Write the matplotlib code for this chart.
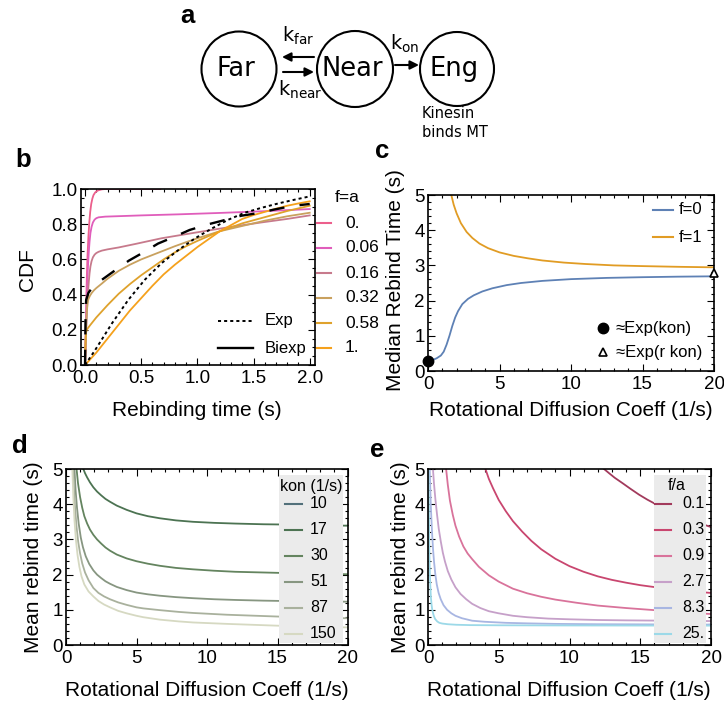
import matplotlib
matplotlib.use('Agg')
import matplotlib.pyplot as plt
from matplotlib.patches import Circle, Rectangle
from matplotlib.ticker import MultipleLocator, FormatStrFormatter

plt.rcParams['font.family'] = ['Liberation Sans', 'DejaVu Sans']
plt.rcParams['lines.scale_dashes'] = False

# ---------------- data: panel b (CDF of rebinding time) ----------------
b_f_labels = ['0.', '0.06', '0.16', '0.32', '0.58', '1.']
b_colors = ['#EC5F8C', '#E05DBB', '#C77A8C', '#C9A15E', '#DFA22C', '#F5A11C']
b_t = [
    [0, 0.004, 0.008, 0.012, 0.016, 0.022, 0.03, 0.038, 0.046, 0.055, 0.065, 0.075, 0.09, 0.105, 0.12, 0.15, 0.18, 0.67],
    [0, 0.005, 0.01, 0.015, 0.02, 0.026, 0.033, 0.04, 0.048, 0.058, 0.07, 0.085, 0.1, 0.12, 0.15, 0.18, 0.5, 0.83, 1.2, 1.6, 2.0],
    [0, 0.005, 0.01, 0.015, 0.02, 0.026, 0.033, 0.04, 0.048, 0.058, 0.07, 0.085, 0.1, 0.12, 0.15, 0.2, 0.3, 0.45, 0.68, 0.98, 1.27, 1.57, 1.8, 2.0],
    [0, 0.004, 0.008, 0.012, 0.016, 0.022, 0.03, 0.045, 0.06, 0.08, 0.1, 0.15, 0.2, 0.3, 0.4, 0.5, 0.6, 0.7, 0.8, 0.9, 1.0, 1.2, 1.4, 1.6, 1.8, 2.0],
    [0, 0.003, 0.006, 0.01, 0.02, 0.05, 0.1, 0.15, 0.2, 0.3, 0.4, 0.5, 0.6, 0.7, 0.8, 0.9, 1.0, 1.2, 1.4, 1.6, 1.8, 2.0],
    [0, 0.05, 0.1, 0.15, 0.2, 0.3, 0.4, 0.5, 0.6, 0.7, 0.8, 0.9, 1.0, 1.1, 1.2, 1.3, 1.4, 1.5, 1.6, 1.7, 1.8, 1.9, 2.0],
]
b_cdf = [
    [0, 0.12, 0.26, 0.39, 0.5, 0.62, 0.73, 0.81, 0.87, 0.915, 0.945, 0.965, 0.98, 0.988, 0.993, 0.998, 1.0, 1.0],
    [0, 0.13, 0.26, 0.37, 0.47, 0.56, 0.64, 0.7, 0.75, 0.785, 0.81, 0.826, 0.834, 0.839, 0.841, 0.843, 0.85, 0.856, 0.864, 0.874, 0.886],
    [0, 0.1, 0.19, 0.27, 0.34, 0.41, 0.47, 0.52, 0.56, 0.59, 0.612, 0.627, 0.636, 0.643, 0.65, 0.657, 0.668, 0.688, 0.72, 0.752, 0.782, 0.81, 0.83, 0.85],
    [0, 0.1, 0.19, 0.26, 0.31, 0.35, 0.375, 0.395, 0.41, 0.425, 0.437, 0.463, 0.49, 0.535, 0.57, 0.60, 0.625, 0.65, 0.675, 0.698, 0.72, 0.76, 0.79, 0.82, 0.845, 0.865],
    [0, 0.1, 0.16, 0.19, 0.205, 0.23, 0.27, 0.305, 0.34, 0.405, 0.46, 0.51, 0.555, 0.60, 0.64, 0.675, 0.705, 0.76, 0.805, 0.84, 0.875, 0.905],
    [0, 0.035, 0.07, 0.11, 0.15, 0.23, 0.31, 0.38, 0.45, 0.515, 0.57, 0.62, 0.67, 0.715, 0.76, 0.795, 0.83, 0.852, 0.87, 0.888, 0.905, 0.918, 0.93],
]
exp_t = [0, 0.09, 0.24, 0.385, 0.53, 0.68, 0.83, 0.98, 1.13, 1.27, 1.42, 1.57, 1.72, 1.87, 2.0]
exp_cdf = [0, 0.085, 0.237, 0.37, 0.483, 0.578, 0.653, 0.72, 0.776, 0.824, 0.865, 0.893, 0.918, 0.94, 0.958]
biexp_t = [0, 0.005, 0.01, 0.03, 0.07, 0.13, 0.25, 0.39, 0.52, 0.65, 0.8, 0.93, 1.1, 1.21, 1.39, 1.53, 1.69, 1.84, 2.0]
biexp_cdf = [0, 0.3, 0.37, 0.41, 0.445, 0.475, 0.53, 0.593, 0.64, 0.69, 0.73, 0.767, 0.80, 0.818, 0.848, 0.862, 0.884, 0.903, 0.915]

# ---------------- data: panel c (median rebind time) ----------------
c_f1_D = [1.63, 1.8, 2.0, 2.3, 2.7, 3.1, 3.6, 4.2, 5.0, 6.0, 7.0, 8.0, 9.5, 11.0, 13.0, 15.0, 17.5, 20]
c_f1_T = [5.0, 4.72, 4.48, 4.2, 3.95, 3.78, 3.62, 3.49, 3.37, 3.27, 3.2, 3.14, 3.08, 3.04, 3.0, 2.98, 2.96, 2.945]
c_f0_D = [0, 0.3, 0.6, 0.9, 1.1, 1.3, 1.5, 1.7, 1.9, 2.1, 2.4, 2.8, 3.2, 3.8, 4.5, 5.5, 6.5, 8.0, 10.0, 12.5, 15.0, 17.5, 20]
c_f0_T = [0.27, 0.31, 0.36, 0.44, 0.55, 0.75, 1.0, 1.28, 1.52, 1.7, 1.9, 2.05, 2.15, 2.26, 2.35, 2.44, 2.5, 2.56, 2.61, 2.645, 2.665, 2.68, 2.69]
c_exp_kon = (0, 0.27)
c_exp_rkon = (20, 2.79)

# ---------------- data: panel d (mean rebind time vs D, kon) ----------------
d_kon_labels = ['10', '17', '30', '51', '87', '150']
d_colors = ['#52707A', '#4C7352', '#64845F', '#879681', '#A9B19D', '#D6D9C2']
d_D = {
    '17': [1.23, 1.35, 1.5, 1.7, 1.94, 2.2, 2.5, 2.8, 3.12, 3.6, 4.3, 5.0, 5.8, 6.66, 7.8, 9.0, 10.5, 12.0, 14.0, 16.0, 18.0, 20],
    '30': [0.75, 0.85, 1.0, 1.15, 1.3, 1.5, 1.7, 1.94, 2.2, 2.5, 2.8, 3.12, 3.6, 4.3, 5.0, 5.8, 6.66, 7.8, 9.0, 10.5, 12.0, 14.0, 16.0, 18.0, 20],
    '51': [0.6, 0.68, 0.78, 0.9, 1.05, 1.2, 1.4, 1.65, 1.94, 2.2, 2.5, 2.8, 3.12, 3.6, 4.3, 5.0, 5.8, 6.66, 7.8, 9.0, 10.5, 12.0, 14.0, 17.0, 20],
    '87': [0.5, 0.57, 0.65, 0.75, 0.87, 1.0, 1.15, 1.35, 1.6, 1.94, 2.3, 2.7, 3.12, 3.7, 4.3, 5.0, 5.48, 6.66, 8.0, 9.02, 11.4, 14.9, 17.5, 20],
    '150': [0.45, 0.52, 0.6, 0.7, 0.82, 0.95, 1.1, 1.3, 1.6, 1.94, 2.3, 2.7, 3.12, 3.7, 4.3, 5.0, 5.48, 6.66, 8.0, 9.02, 11.4, 14.9, 17.5, 20],
}
d_T = {
    '17': [5.0, 4.88, 4.76, 4.62, 4.48, 4.36, 4.25, 4.15, 4.07, 3.96, 3.84, 3.74, 3.66, 3.6, 3.54, 3.5, 3.47, 3.45, 3.43, 3.42, 3.4, 3.39],
    '30': [5.0, 4.6, 4.2, 3.9, 3.66, 3.45, 3.28, 3.13, 3.0, 2.88, 2.77, 2.68, 2.57, 2.46, 2.38, 2.31, 2.25, 2.19, 2.15, 2.11, 2.08, 2.06, 2.04, 2.02, 2.01],
    '51': [5.0, 4.4, 3.9, 3.45, 3.05, 2.78, 2.52, 2.3, 2.12, 2.0, 1.9, 1.81, 1.74, 1.65, 1.56, 1.49, 1.44, 1.4, 1.36, 1.33, 1.3, 1.28, 1.26, 1.24, 1.23],
    '87': [5.0, 4.4, 3.85, 3.35, 2.92, 2.6, 2.32, 2.06, 1.84, 1.62, 1.48, 1.38, 1.3, 1.21, 1.14, 1.07, 1.04, 0.99, 0.94, 0.91, 0.86, 0.81, 0.78, 0.76],
    '150': [5.0, 4.2, 3.55, 3.0, 2.55, 2.22, 1.95, 1.72, 1.52, 1.38, 1.25, 1.15, 1.07, 0.97, 0.9, 0.83, 0.79, 0.72, 0.67, 0.64, 0.6, 0.55, 0.52, 0.5],
}

# ---------------- data: panel e (mean rebind time vs D, f/a) ----------------
e_fa_labels = ['0.1', '0.3', '0.9', '2.7', '8.3', '25.']
e_colors = ['#A23A5C', '#C9466F', '#D9739B', '#C6A0C9', '#A8B6E2', '#9CD9E8']
e_D = [
    [12.44, 12.8, 13.2, 13.74, 14.3, 14.92, 15.5, 16.1, 16.8, 17.5, 18.2, 19.0, 20],
    [4.06, 4.3, 4.6, 5.0, 5.5, 6.0, 6.66, 7.3, 8.0, 9.0, 10.0, 11.0, 12.0, 13.0, 14.0, 15.0, 16.1, 17.5, 19.0, 20],
    [1.28, 1.4, 1.55, 1.75, 1.94, 2.2, 2.5, 2.8, 3.12, 3.6, 4.3, 5.0, 6.0, 7.0, 8.0, 9.0, 10.5, 12.0, 14.0, 16.0, 18.0, 20],
    [0.35, 0.42, 0.52, 0.64, 0.76, 0.9, 1.05, 1.2, 1.4, 1.65, 1.94, 2.3, 2.7, 3.12, 3.7, 4.3, 5.0, 6.0, 7.0, 8.5, 10.0, 12.0, 14.0, 17.0, 20],
    [0.12, 0.16, 0.2, 0.25, 0.3, 0.36, 0.43, 0.52, 0.62, 0.75, 0.9, 1.1, 1.35, 1.65, 1.94, 2.4, 3.12, 4.0, 5.5, 7.0, 9.0, 12.0, 16.0, 20],
    [0.04, 0.06, 0.08, 0.1, 0.12, 0.15, 0.2, 0.25, 0.3, 0.4, 0.5, 0.65, 0.8, 1.0, 1.4, 2.0, 3.0, 5.0, 10.0, 20],
]
e_T = [
    [5.0, 4.88, 4.75, 4.6, 4.44, 4.27, 4.13, 4.0, 3.86, 3.73, 3.62, 3.49, 3.35],
    [5.0, 4.72, 4.45, 4.12, 3.8, 3.52, 3.22, 2.96, 2.72, 2.45, 2.24, 2.08, 1.95, 1.85, 1.77, 1.70, 1.64, 1.57, 1.51, 1.48],
    [5.0, 4.55, 4.1, 3.7, 3.39, 3.08, 2.8, 2.6, 2.44, 2.22, 1.98, 1.8, 1.6, 1.47, 1.37, 1.29, 1.2, 1.12, 1.05, 0.99, 0.93, 0.88],
    [5.0, 4.6, 4.15, 3.7, 3.3, 2.95, 2.62, 2.37, 2.1, 1.86, 1.64, 1.45, 1.3, 1.17, 1.05, 0.96, 0.9, 0.83, 0.79, 0.75, 0.73, 0.71, 0.70, 0.69, 0.68],
    [5.0, 4.45, 3.95, 3.5, 3.1, 2.7, 2.35, 2.0, 1.72, 1.48, 1.3, 1.13, 1.0, 0.9, 0.83, 0.76, 0.69, 0.66, 0.63, 0.615, 0.6, 0.59, 0.585, 0.58],
    [5.0, 4.0, 3.2, 2.6, 2.2, 1.8, 1.38, 1.15, 1.0, 0.84, 0.74, 0.67, 0.63, 0.61, 0.59, 0.575, 0.565, 0.56, 0.555, 0.55],
]

# ---------------- figure ----------------
W, H = 724, 704
fig = plt.figure(figsize=(W / 100, H / 100), dpi=100)
TICK_FS = 13.5
LAB_FS = 15
LEG_FS = 11.5


def px_axes(l, t, r, b):
    return fig.add_axes([l / W, 1 - b / H, (r - l) / W, (b - t) / H])


def style(ax, xmaj, xmin, ymaj, ymin):
    ax.xaxis.set_major_locator(MultipleLocator(xmaj))
    ax.xaxis.set_minor_locator(MultipleLocator(xmin))
    ax.yaxis.set_major_locator(MultipleLocator(ymaj))
    ax.yaxis.set_minor_locator(MultipleLocator(ymin))
    ax.tick_params(which='both', direction='in', top=True, right=True, width=0.8)
    ax.tick_params(which='major', length=5, labelsize=TICK_FS)
    ax.tick_params(which='minor', length=2.5)
    ax.tick_params(axis='x', pad=3.5)
    ax.tick_params(axis='y', pad=2.5)
    for s in ax.spines.values():
        s.set_linewidth(1.2)


def set_labels(ax, box, xlab, xc, ylab, yc):
    l, t, r, b = box
    ax.set_xlabel(xlab, fontsize=LAB_FS, va='center', ha='center')
    ax.xaxis.set_label_coords((xc[0] - l) / (r - l), (b - xc[1]) / (b - t))
    ax.set_ylabel(ylab, fontsize=LAB_FS, va='center', ha='center')
    ax.yaxis.set_label_coords((yc[0] - l) / (r - l), (b - yc[1]) / (b - t))


# ---- panel b ----
box_b = (81, 189, 315, 365)
axb = px_axes(*box_b)
for t, y, col in zip(b_t, b_cdf, b_colors):
    axb.plot(t, y, color=col, lw=1.3)
axb.plot(exp_t, exp_cdf, color='black', lw=1.4, dashes=(2.2, 2.2))
axb.plot(biexp_t, biexp_cdf, color='black', lw=1.7, dashes=(11, 11))
axb.set_xlim(-0.036, 2.047)
axb.set_ylim(0, 1.0)
style(axb, 0.5, 0.1, 0.2, 0.05)
axb.xaxis.set_major_formatter(FormatStrFormatter('%.1f'))
axb.yaxis.set_major_formatter(FormatStrFormatter('%.1f'))
set_labels(axb, box_b, 'Rebinding time (s)', (197, 411), 'CDF', (27, 270))

# ---- panel c ----
box_c = (428, 195, 714, 371)
axc = px_axes(*box_c)
axc.plot(c_f0_D, c_f0_T, color='#5E81B5', lw=1.3)
axc.plot(c_f1_D, c_f1_T, color='#E19C24', lw=1.3)
axc.plot([c_exp_kon[0]], [c_exp_kon[1]], 'o', color='black', ms=7.5, clip_on=False, zorder=5)
axc.plot([c_exp_rkon[0]], [c_exp_rkon[1]], '^', mfc='white', mec='black', mew=1.2, ms=6,
         clip_on=False, zorder=5)
axc.set_xlim(0, 20)
axc.set_ylim(0, 5)
style(axc, 5, 1, 1, 0.2)
set_labels(axc, box_c, 'Rotational Diffusion Coeff (1/s)', (571, 411),
           'Median Rebind Time (s)', (395, 280))

# ---- panel d ----
box_d = (66, 469, 348, 645)
axd = px_axes(*box_d)
for lab, col in zip(d_kon_labels, d_colors):
    if lab in d_D:
        axd.plot(d_D[lab], d_T[lab], color=col, lw=1.3)
axd.set_xlim(0, 20)
axd.set_ylim(0, 5)
style(axd, 5, 1, 1, 0.2)
set_labels(axd, box_d, 'Rotational Diffusion Coeff (1/s)', (207, 690),
           'Mean rebind time (s)', (34, 557))

# ---- panel e ----
box_e = (428, 469, 711, 645)
axe = px_axes(*box_e)
for D, T, col in zip(e_D, e_T, e_colors):
    axe.plot(D, T, color=col, lw=1.3)
axe.set_xlim(0, 20)
axe.set_ylim(0, 5)
style(axe, 5, 1, 1, 0.2)
set_labels(axe, box_e, 'Rotational Diffusion Coeff (1/s)', (569, 690),
           'Mean rebind time (s)', (400, 557))

# ---- overlay in pixel coordinates: schematic, legends, panel letters ----
ov = fig.add_axes([0, 0, 1, 1])
ov.set_xlim(0, W)
ov.set_ylim(H, 0)
ov.axis('off')
ov.set_zorder(10)

DJ = 'DejaVu Sans'
# panel a schematic
for (cx, cy, r) in [(239, 69, 37.5), (355, 69, 38), (457, 69, 37)]:
    ov.add_patch(Circle((cx, cy), r, fill=False, lw=1.5, ec='black'))
for txt, x in [('Far', 236), ('Near', 352), ('Eng', 454)]:
    ov.text(x, 76, txt, fontsize=18.5, family=DJ, ha='center', va='baseline')
arw = dict(arrowstyle='-|>', lw=1.5, color='black', mutation_scale=13, shrinkA=0, shrinkB=0)
ov.annotate('', xy=(282, 57), xytext=(314, 57), arrowprops=arw)
ov.annotate('', xy=(314, 72), xytext=(283, 72), arrowprops=arw)
ov.annotate('', xy=(419, 65), xytext=(395, 65), arrowprops=arw)
ov.text(282, 42, r'$\mathregular{k_{far}}$', fontsize=14, family=DJ, ha='left', va='baseline')
ov.text(278, 96, r'$\mathregular{k_{near}}$', fontsize=14, family=DJ, ha='left', va='baseline')
ov.text(390, 50, r'$\mathregular{k_{on}}$', fontsize=14, family=DJ, ha='left', va='baseline')
ov.text(422, 118, 'Kinesin', fontsize=10.5, family=DJ, ha='left', va='baseline')
ov.text(422, 137, 'binds MT', fontsize=10.5, family=DJ, ha='left', va='baseline')

# panel letters
for let, x, y in [('a', 180, 23), ('b', 15, 167), ('c', 375, 158), ('d', 12, 453), ('e', 370, 457)]:
    ov.text(x, y, let, fontsize=18.5, fontweight='bold', ha='left', va='baseline')

# panel b legends
ov.text(335, 198, 'f=a', fontsize=12.5, ha='left', va='center')
for i, (lab, col) in enumerate(zip(b_f_labels, b_colors)):
    y = 223 + i * 25
    ov.plot([317, 331], [y, y], color=col, lw=1.5)
    ov.text(345, y, lab, fontsize=12.5, ha='left', va='center')
ov.plot([218, 253], [321, 321], color='black', lw=1.4, dashes=(2.2, 2.2))
ov.text(265, 321, 'Exp', fontsize=12, ha='left', va='center')
ov.plot([218, 253], [348, 348], color='black', lw=1.7)
ov.text(265, 348, 'Biexp', fontsize=12, ha='left', va='center')

# panel c legend
ov.plot([653, 673], [210, 210], color='#5E81B5', lw=1.5)
ov.text(679, 210, 'f=0', fontsize=12, ha='left', va='center')
ov.plot([653, 673], [237, 237], color='#E19C24', lw=1.5)
ov.text(679, 237, 'f=1', fontsize=12, ha='left', va='center')
ov.plot([603], [328], 'o', color='black', ms=7.5)
ov.text(616, 328, '≈Exp(kon)', fontsize=12, ha='left', va='center')
ov.plot([603], [352], '^', mfc='white', mec='black', mew=1.2, ms=6)
ov.text(616, 352, '≈Exp(r kon)', fontsize=12, ha='left', va='center')

# panel d legend
ov.add_patch(Rectangle((279, 475), 64, 168, color='#EBEBEB', lw=0))
ov.text(311, 486, 'kon (1/s)', fontsize=LEG_FS, ha='center', va='center')
for i, (lab, col) in enumerate(zip(d_kon_labels, d_colors)):
    y = 504 + i * 26
    ov.plot([285, 302], [y, y], color=col, lw=1.5)
    ov.text(310, y, lab, fontsize=LEG_FS, ha='left', va='center')

# panel e legend
ov.add_patch(Rectangle((654, 475), 52, 168, color='#EBEBEB', lw=0))
ov.text(677, 486, 'f/a', fontsize=LEG_FS, ha='center', va='center')
for i, (lab, col) in enumerate(zip(e_fa_labels, e_colors)):
    y = 504 + i * 26
    ov.plot([655, 671], [y, y], color=col, lw=1.5)
    ov.text(682, y, lab, fontsize=LEG_FS, ha='left', va='center')

fig.savefig('out.png', dpi=100)
